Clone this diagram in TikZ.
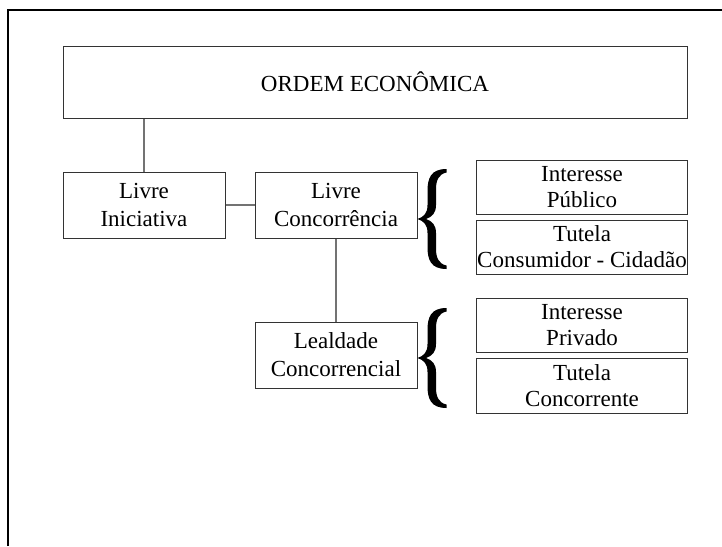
\documentclass[tikz,border=0pt]{standalone}
\usepackage{fontspec}
\setmainfont{Liberation Serif}
\begin{document}
\begin{tikzpicture}[x=1pt,y=-1pt,
  box/.style={draw=black!80,line width=1pt,align=center,inner sep=0pt,
    font=\fontsize{23}{28}\selectfont},
  rbox/.style={draw=black!80,line width=1pt,align=center,inner sep=0pt,
    minimum width=211pt,minimum height=54pt,font=\fontsize{23}{26}\selectfont},
  conn/.style={draw=black!55,line width=1.2pt},
  curly/.pic={
    \fill[black] (14.5,-50) .. controls (-1,-50) and (-4.5,-41) .. (-4.5,-28)
      -- (-4.5,-14) .. controls (-4.5,-6) and (-8,-2) .. (-14.5,0)
      .. controls (-8,2) and (-4.5,6) .. (-4.5,14)
      -- (-4.5,28) .. controls (-4.5,41) and (-1,50) .. (14.5,50)
      -- (14.5,46.5) .. controls (7,45) and (4,39) .. (4,30)
      -- (4,14) .. controls (4,6) and (0,2) .. (-6,0)
      .. controls (0,-2) and (4,-6) .. (4,-14)
      -- (4,-30) .. controls (4,-39) and (7,-45) .. (14.5,-46.5) -- cycle;
  }]
\useasboundingbox (0,0) rectangle (722,546);
% frame
\draw[line width=2pt] (7.5,546) -- (7.5,10) -- (722,10);
% nodes
\node[box,minimum width=624pt,minimum height=72pt] (main) at (375,82) {ORDEM ECONÔMICA};
\node[box,minimum width=162pt,minimum height=66pt] (li) at (144,205) {Livre\\Iniciativa};
\node[box,minimum width=162pt,minimum height=66pt] (lc) at (336,205) {Livre\\Concorrência};
\node[box,minimum width=162pt,minimum height=66pt] (ll) at (336,355) {Lealdade\\Concorrencial};
\node[rbox] (ip) at (582,187) {Interesse\\Público};
\node[rbox] (tc) at (582,247) {Tutela\\Consumidor - Cidadão};
\node[rbox] (ipr) at (582,325) {Interesse\\Privado};
\node[rbox,minimum height=55pt] (tco) at (582,385.5) {Tutela\\Concorrente};
% braces
\coordinate (b1) at (432,219);
\coordinate (b2) at (432,358);
\pic at (b1) {curly};
\pic at (b2) {curly};
% connectors
\draw[conn] (li.north) -- (li.north |- main.south);
\draw[conn] (li.east) -- (lc.west);
\draw[conn] (lc.south) -- (ll.north);
\end{tikzpicture}
\end{document}
